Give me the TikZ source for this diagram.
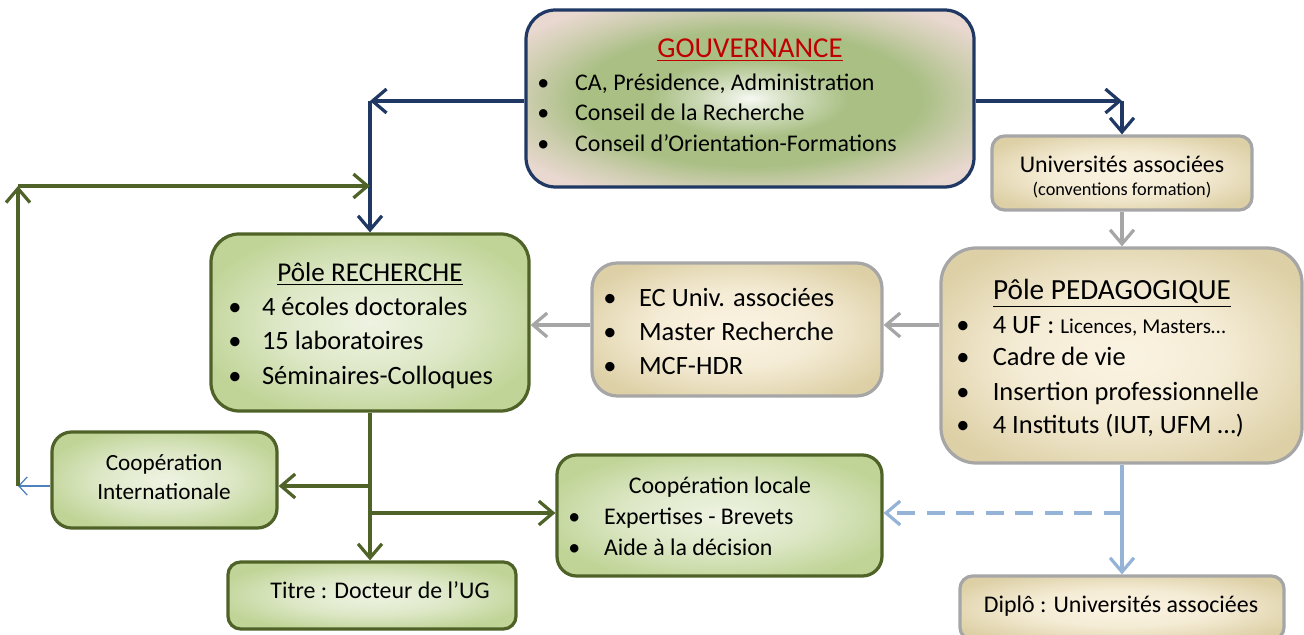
\documentclass[tikz,border=0pt]{standalone}
\usepackage{fontspec}
\setmainfont{Carlito}
\usetikzlibrary{arrows.meta}

\definecolor{govblue}{HTML}{1F3864}
\definecolor{govred}{HTML}{C00000}
\definecolor{govgreen}{HTML}{A9BF84}
\definecolor{govpink}{HTML}{E9D8D0}
\definecolor{olive}{HTML}{4F6228}
\definecolor{greenlt}{HTML}{EEF3E2}
\definecolor{greendk}{HTML}{C0D497}
\definecolor{beigelt}{HTML}{FBF3E2}
\definecolor{beigedk}{HTML}{DDD0A6}
\definecolor{graybd}{HTML}{A6A6A6}
\definecolor{lightblue}{HTML}{95B3D7}
\definecolor{midblue}{HTML}{4F81BD}

\pgfdeclareradialshading{govfill}{\pgfpoint{0bp}{0bp}}{color(0bp)=(white!90!govgreen); color(5bp)=(govgreen!55!white); color(11bp)=(govgreen); color(19bp)=(govgreen); color(25bp)=(govgreen!45!govpink); color(31bp)=(govpink); color(100bp)=(govpink)}
\pgfdeclareradialshading{greenfill}{\pgfpoint{0bp}{0bp}}{color(0bp)=(greenlt); color(14bp)=(greenlt!65!greendk); color(28bp)=(greendk); color(100bp)=(greendk)}
\pgfdeclareradialshading{beigefill}{\pgfpoint{0bp}{0bp}}{color(0bp)=(beigelt); color(14bp)=(beigelt!80!beigedk); color(30bp)=(beigedk); color(100bp)=(beigedk)}

\newcommand{\bul}[1][26pt]{\makebox[#1][l]{\textbullet}}

\tikzset{
  boxsize/.style 2 args={minimum width=#1*0.025cm, minimum height=#2*0.025cm, inner sep=0pt},
  govbox/.style={draw=govblue, line width=2.3pt, shading=govfill, rounded corners=21pt},
  greenbox/.style={draw=olive, line width=2.3pt, shading=greenfill},
  beigebox/.style={draw=graybd, line width=2.3pt, shading=beigefill},
  line/.style={inner sep=0pt, anchor=base west},
  cline/.style={inner sep=0pt, anchor=base},
  bluearrow/.style={draw=govblue, line width=2.3pt, -{Straight Barb[length=10pt,width=17pt]}},
  greenarrow/.style={draw=olive, line width=2.3pt, -{Straight Barb[length=10pt,width=17pt]}},
  grayarrow/.style={draw=graybd, line width=2.3pt, -{Straight Barb[length=10pt,width=17pt]}},
  lbarrow/.style={draw=lightblue, line width=2.3pt, -{Straight Barb[length=10pt,width=17pt]}},
  thinblue/.style={draw=midblue, line width=0.9pt, -{Straight Barb[length=6pt,width=13pt]}}
}

\begin{document}
\begin{tikzpicture}[x=0.025cm, y=-0.025cm]
\useasboundingbox (0,0) rectangle (1304,635);

\node[govbox, boxsize={448}{177}] (gov) at (750,98.5) {};
\node[beigebox, rounded corners=9pt, boxsize={260}{74}] (univ) at (1122,173) {};
\node[beigebox, rounded corners=25pt, boxsize={361}{215}] (peda) at (1121.5,355.5) {};
\node[beigebox, rounded corners=18pt, boxsize={290}{133}] (ec) at (737,329.5) {};
\node[greenbox, rounded corners=20pt, boxsize={318}{177}] (rech) at (370,322.5) {};
\node[greenbox, rounded corners=14pt, boxsize={225}{96}] (coopint) at (164.5,480) {};
\node[greenbox, rounded corners=9pt, boxsize={288}{67}] (titre) at (372,595.5) {};
\node[greenbox, rounded corners=14pt, boxsize={325}{121}] (cooploc) at (719.5,515.5) {};
\node[beigebox, rounded corners=9pt, boxsize={324}{64}] (diplo) at (1122,608) {};

% gouvernance
\node[cline, text=govred, font=\fontsize{20.5}{24}\selectfont] (gov-t) at (750,58) {\underline{GOUVERNANCE}};
\foreach \txt [count=\i] in {{CA, Présidence, Administration}, {Conseil de la Recherche}, {Conseil d’Orientation-Formations}}
  \node[line, font=\fontsize{17}{20}\selectfont] (gov-\i) at (537,60+30.5*\i) {\bul[27pt]\txt};

% universites associees
\node[cline, font=\fontsize{17}{20}\selectfont] (univ-1) at (1122,173) {Universités associées};
\node[cline, font=\fontsize{13}{15}\selectfont] (univ-2) at (1122,196) {(conventions formation)};

% pole recherche
\node[cline, font=\fontsize{19.3}{23}\selectfont] (rech-t) at (370,282) {\underline{Pôle RECHERCHE}};
\foreach \txt [count=\i] in {{4 écoles doctorales}, {15 laboratoires}, {Séminaires-Colloques}}
  \node[line, font=\fontsize{18.8}{22}\selectfont] (rech-\i) at (228,281+34.5*\i) {\bul[24pt]\txt};

% EC
\foreach \txt [count=\i] in {{EC Univ. associées}, {Master Recherche}, {MCF-HDR}}
  \node[line, font=\fontsize{18.8}{22}\selectfont] (ec-\i) at (603,273+34*\i) {\bul[25.5pt]\txt};

% pole pedagogique
\node[cline, font=\fontsize{20.8}{24}\selectfont] (peda-t) at (1112,300) {\underline{Pôle PEDAGOGIQUE}};
\node[line, font=\fontsize{18.8}{22}\selectfont] (peda-1) at (956,334) {\bul{}4 UF : {\fontsize{15}{18}\selectfont Licences, Masters…}};
\node[line, font=\fontsize{18.8}{22}\selectfont] (peda-2) at (956,366) {\bul{}Cadre de vie};
\node[line, font=\fontsize{18.8}{22}\selectfont] (peda-3) at (956,401) {\bul{}Insertion professionnelle};
\node[line, font=\fontsize{18.8}{22}\selectfont] (peda-4) at (956,434) {\bul{}4 Instituts (IUT, UFM …)};

% cooperations
\node[cline, font=\fontsize{16.5}{20}\selectfont] (coopint-1) at (164,471) {Coopération};
\node[cline, font=\fontsize{16.5}{20}\selectfont] (coopint-2) at (164,500) {Internationale};
\node[cline, font=\fontsize{17}{20}\selectfont] (cooploc-t) at (720,494) {Coopération locale};
\node[line, font=\fontsize{17}{20}\selectfont] (cooploc-1) at (568,525) {\bul[25.5pt]Expertises - Brevets};
\node[line, font=\fontsize{17}{20}\selectfont] (cooploc-2) at (568,556) {\bul[25.5pt]Aide à la décision};

\node[cline, font=\fontsize{17}{20}\selectfont] (titre-1) at (380,598) {Titre : Docteur de l’UG};
\node[cline, font=\fontsize{17}{20}\selectfont] (diplo-1) at (1121,613) {Diplô : Universités associées};

% connecteurs
\coordinate (gL) at (370,101);
\coordinate (gR) at (1122,101);
\coordinate (mid) at (0,325);
\coordinate (bI) at (370,486);
\coordinate (bL) at (370,513);
\coordinate (bD) at (1122,513);
\coordinate (lp) at (18,486);
\coordinate (lt) at (18,186);

\draw[bluearrow] (gov.west |- gL) -- (gL);
\draw[bluearrow] (gL) -- (rech.north);
\draw[bluearrow] (gov.east |- gR) -- (gR);
\draw[bluearrow] (gR) -- (univ.north);

\draw[grayarrow] (univ.south) -- (univ.south |- peda.north);
\draw[grayarrow] (peda.west |- mid) -- (ec.east |- mid);
\draw[grayarrow] (ec.west |- mid) -- (rech.east |- mid);

\draw[greenarrow] (rech.south) -- (rech.south |- titre.north);
\draw[greenarrow] (bI) -- (coopint.east |- bI);
\draw[greenarrow] (bL) -- (cooploc.west |- bL);
\draw[thinblue] (coopint.west |- bI) -- (lp);
\draw[greenarrow] (lp) -- (lt);
\draw[greenarrow] (lt) -- (gL |- lt);

\draw[lbarrow] (diplo.north |- peda.south) -- (diplo.north);
\draw[lbarrow, dash pattern=on 13pt off 8pt] (bD) -- (cooploc.east |- bD);
\end{tikzpicture}
\end{document}
